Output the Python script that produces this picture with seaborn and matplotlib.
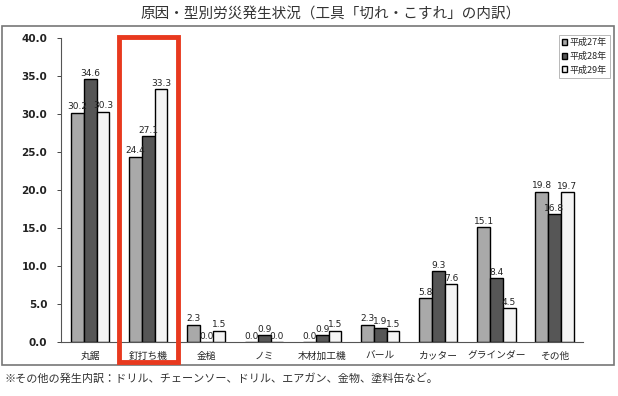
import pandas as pd
import matplotlib.pyplot as plt
import matplotlib.patches as mpatches
import seaborn as sns

# データ
categories = ['丸鋸', '釘打ち機', '金槌', 'ノミ', '木材加工機', 'バール', 'カッター', 'グラインダー', 'その他']
years = ['平成27年', '平成28年', '平成29年']
h27 = [30.2, 24.4, 2.3, 0.0, 0.0, 2.3, 5.8, 15.1, 19.8]
h28 = [34.6, 27.1, 0.0, 0.9, 0.9, 1.9, 9.3, 8.4, 16.8]
h29 = [30.3, 33.3, 1.5, 0.0, 1.5, 1.5, 7.6, 4.5, 19.7]

df = pd.DataFrame({'category': categories * 3,
                   'year': [y for y in years for _ in categories],
                   'value': h27 + h28 + h29})

sns.set_style('white')
plt.rcParams['font.family'] = ['Noto Sans CJK JP', 'DejaVu Sans']

fig = plt.figure(figsize=(6.18, 3.96), dpi=100)
ax = fig.add_axes([0.099, 0.136, 0.845, 0.768])

palette = ['#a9a9a9', '#565656', '#f4f4f4']
sns.barplot(data=df, x='category', y='value', hue='year', palette=palette,
            width=0.66, edgecolor='black', linewidth=1.0, saturation=1, ax=ax)

for cont in ax.containers:
    ax.bar_label(cont, fmt='%.1f', fontsize=6.5, padding=1,
                 family=['DejaVu Sans'], color='#222222')

ax.set_ylim(0, 40)
ax.set_yticks([0, 5, 10, 15, 20, 25, 30, 35, 40])
ax.set_yticklabels([f'{v:.1f}' for v in range(0, 45, 5)], fontsize=7.5,
                   family=['DejaVu Sans'], fontweight='bold', color='#222222')
ax.tick_params(axis='y', left=True, length=3, width=0.6, pad=7)
ax.tick_params(axis='x', labelsize=7, length=0, pad=6)
ax.set_xlabel('')
ax.set_ylabel('')
ax.set_xlim(-0.5, len(categories) - 0.5)
for s in ['top', 'right']:
    ax.spines[s].set_visible(False)
for s in ['left', 'bottom']:
    ax.spines[s].set_color('#555555')
    ax.spines[s].set_linewidth(0.8)

leg = ax.legend(loc='upper right', bbox_to_anchor=(1.05, 1.01), fontsize=6.5,
                frameon=True, fancybox=False, handlelength=0.6, handleheight=0.6,
                handletextpad=0.2, borderpad=0.35, labelspacing=0.5, borderaxespad=0)
leg.get_frame().set_edgecolor('#999999')
leg.get_frame().set_linewidth(0.6)

# 外枠
fig.patches.append(mpatches.Rectangle((0.003, 0.078), 0.99, 0.856, transform=fig.transFigure,
                                      fill=False, edgecolor='#777777', linewidth=1.2))
# 赤枠(釘打ち機)
fig.patches.append(mpatches.Rectangle((119 / 618, 1 - 362 / 396), 59 / 618, 325 / 396,
                                      transform=fig.transFigure, fill=False,
                                      edgecolor='#e8391e', linewidth=3.5, zorder=10))

fig.text(0.535, 0.965, '原因・型別労災発生状況（工具「切れ・こすれ」の内訳）',
         ha='center', va='center', fontsize=10.5, color='#333333')
fig.text(0.008, 0.045, '※その他の発生内訳：ドリル、チェーンソー、ドリル、エアガン、金物、塗料缶など。',
         ha='left', va='center', fontsize=8, color='#333333')

fig.savefig('out.png', dpi=100)
